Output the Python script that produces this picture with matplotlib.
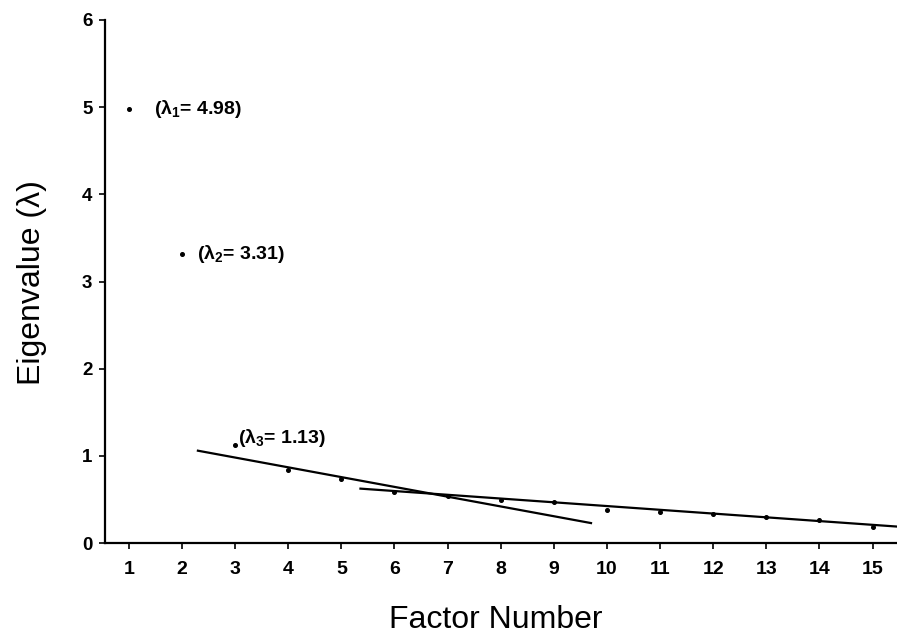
import matplotlib
matplotlib.use("Agg")
import matplotlib.pyplot as plt

plt.rcParams['font.family'] = ['Liberation Sans', 'DejaVu Sans']
plt.rcParams['mathtext.fontset'] = 'custom'
plt.rcParams['mathtext.rm'] = 'Liberation Sans:bold'
plt.rcParams['mathtext.it'] = 'Liberation Sans:bold'
plt.rcParams['mathtext.bf'] = 'Liberation Sans:bold'
plt.rcParams['mathtext.sf'] = 'Liberation Sans:bold'

# Data
factors = list(range(1, 16))
eigenvalues = [4.98, 3.31, 1.13, 0.84, 0.74, 0.59, 0.54, 0.49, 0.47,
               0.385, 0.36, 0.33, 0.30, 0.265, 0.19]
fit1_x = [2.3, 9.7]
fit1_y = [1.06, 0.23]
fit2_x = [5.36, 15.46]
fit2_y = [0.625, 0.19]
labels = [r"($\lambda_1$= 4.98)", r"($\lambda_2$= 3.31)", r"($\lambda_3$= 1.13)"]
x_ticks = list(range(1, 16))
y_ticks = [0, 1, 2, 3, 4, 5, 6]

fig = plt.figure(figsize=(8.97, 6.42), dpi=100)
ax = fig.add_axes([0.117, 0.154, 0.883, 0.815])

ax.plot(factors, eigenvalues, linestyle='none', marker='o', markersize=2.6,
        color='black')
ax.plot(fit1_x, fit1_y, color='black', linewidth=1.6)
ax.plot(fit2_x, fit2_y, color='black', linewidth=1.6, clip_on=True)

offsets = [(18, 0), (11, 0), (2, 5)]
for i, (lab, off) in enumerate(zip(labels, offsets)):
    ax.annotate(lab, xy=(factors[i], eigenvalues[i]), xytext=off,
                textcoords='offset points', ha='left', va='center',
                fontsize=14, fontweight='bold')

ax.set_xlim(0.55, 15.46)
ax.set_ylim(0, 6)
ax.set_xticks(x_ticks)
ax.set_yticks(y_ticks)
ax.set_xticklabels([str(t) for t in x_ticks], fontsize=14, fontweight='bold')
ax.set_yticklabels([str(t) for t in y_ticks], fontsize=13.5, fontweight='bold')
ax.tick_params(axis='both', direction='out', length=4, width=1.2)
ax.tick_params(axis='x', pad=9)
ax.tick_params(axis='y', pad=5)

for s in ['top', 'right']:
    ax.spines[s].set_visible(False)
for s in ['left', 'bottom']:
    ax.spines[s].set_linewidth(1.6)

fig.text(496 / 897, 1 - 620 / 642, "Factor Number", ha='center', va='center',
         fontsize=23)
fig.text(32 / 897, 1 - 283 / 642, "Eigenvalue (λ)", ha='center', va='center',
         fontsize=23, rotation=90)

fig.savefig("out.png", dpi=100)
